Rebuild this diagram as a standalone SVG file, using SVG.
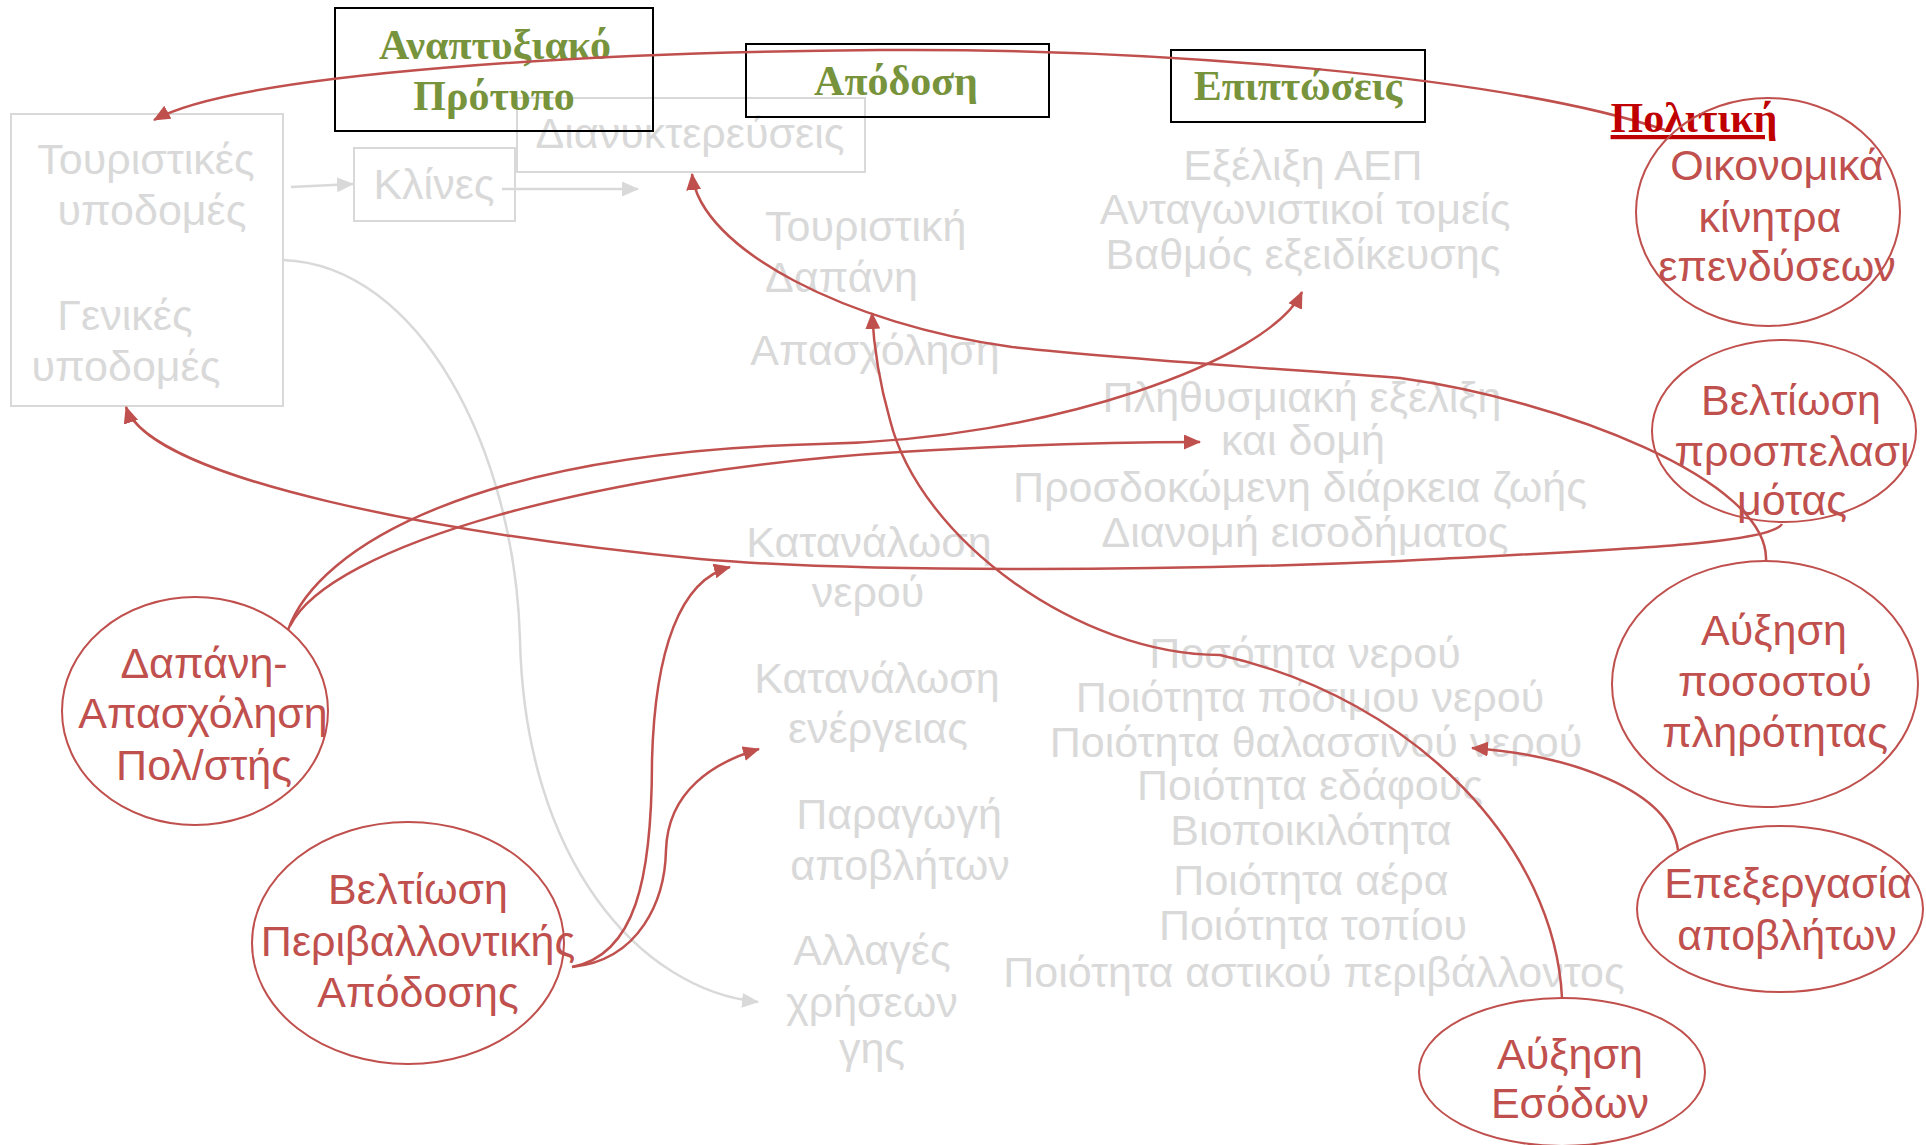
<svg xmlns="http://www.w3.org/2000/svg" width="1926" height="1145" viewBox="0 0 1926 1145">
<style>
.g{font-family:"Liberation Sans",Arial,sans-serif;font-size:43px;fill:#D9D9D9;text-anchor:middle}
.r{font-family:"Liberation Sans",Arial,sans-serif;font-size:43px;fill:#C0504D;text-anchor:middle}
.t{font-family:"Liberation Serif","Times New Roman",serif;font-size:42px;font-weight:bold;fill:#77933C;text-anchor:middle}
.p{font-family:"Liberation Serif","Times New Roman",serif;font-size:42px;font-weight:bold;fill:#C00000;text-anchor:middle;text-decoration:underline}
.tb{fill:none;stroke:#000;stroke-width:2}
.gb{fill:none;stroke:#D9D9D9;stroke-width:2}
.gl{fill:none;stroke:#D9D9D9;stroke-width:2.5}
.rl{fill:none;stroke:#C0504D;stroke-width:2.5}
.el{fill:none;stroke:#C0504D;stroke-width:2}
</style>
<defs>
<marker id="ar" viewBox="0 0 17 15" refX="16" refY="7.5" markerWidth="17" markerHeight="15" markerUnits="userSpaceOnUse" orient="auto"><path d="M0,0 L17,7.5 L0,15 z" fill="#C0504D"/></marker>
<marker id="ag" viewBox="0 0 17 15" refX="16" refY="7.5" markerWidth="17" markerHeight="15" markerUnits="userSpaceOnUse" orient="auto"><path d="M0,0 L17,7.5 L0,15 z" fill="#D9D9D9"/></marker>
</defs>
<rect width="1926" height="1145" fill="#fff"/>

<g id="infra">
<rect class="gb" x="11" y="114" width="272" height="292"/>
<text class="g" x="146" y="174">Τουριστικές</text>
<text class="g" x="152" y="225">υποδομές</text>
<text class="g" x="125" y="330">Γενικές</text>
<text class="g" x="126" y="381">υποδομές</text>
</g>
<g id="klines">
<rect class="gb" x="354" y="148" width="161" height="73"/>
<text class="g" x="434" y="199">Κλίνες</text>
</g>
<g id="dianykt">
<rect class="gb" x="517" y="98" width="348" height="74"/>
<text class="g" x="690" y="148">Διανυκτερεύσεις</text>
</g>
<g id="dapani">
<text class="g" x="765" y="241" style="text-anchor:start">Τουριστική</text>
<text class="g" x="765" y="292" style="text-anchor:start">Δαπάνη</text>
</g>
<g id="apasxolisi"><text class="g" x="875" y="365">Απασχόληση</text></g>
<g id="aep">
<text class="g" x="1303" y="180">Εξέλιξη ΑΕΠ</text>
<text class="g" x="1305" y="224">Ανταγωνιστικοί τομείς</text>
<text class="g" x="1303" y="269">Βαθμός εξειδίκευσης</text>
</g>
<g id="plithysmos">
<text class="g" x="1302" y="412">Πληθυσμιακή εξέλιξη</text>
<text class="g" x="1303" y="455">και δομή</text>
<text class="g" x="1300" y="502">Προσδοκώμενη διάρκεια ζωής</text>
<text class="g" x="1305" y="547">Διανομή εισοδήματος</text>
</g>
<g id="nero">
<text class="g" x="869" y="557">Κατανάλωση</text>
<text class="g" x="868" y="607">νερού</text>
</g>
<g id="energeia">
<text class="g" x="877" y="693">Κατανάλωση</text>
<text class="g" x="878" y="743">ενέργειας</text>
</g>
<g id="apovlita">
<text class="g" x="899" y="829">Παραγωγή</text>
<text class="g" x="900" y="880">αποβλήτων</text>
</g>
<g id="xriseis">
<text class="g" x="872" y="965">Αλλαγές</text>
<text class="g" x="872" y="1017">χρήσεων</text>
<text class="g" x="872" y="1063">γης</text>
</g>
<g id="perivallon">
<text class="g" x="1305" y="668">Ποσότητα νερού</text>
<text class="g" x="1310" y="712">Ποιότητα πόσιμου νερού</text>
<text class="g" x="1316" y="757">Ποιότητα θαλασσινού νερού</text>
<text class="g" x="1310" y="800">Ποιότητα εδάφους</text>
<text class="g" x="1311" y="845">Βιοποικιλότητα</text>
<text class="g" x="1311" y="895">Ποιότητα αέρα</text>
<text class="g" x="1313" y="940">Ποιότητα τοπίου</text>
<text class="g" x="1314" y="987">Ποιότητα αστικού περιβάλλοντος</text>
</g>

<g id="gray-connectors">
<path class="gl" d="M291,187 L353,184" marker-end="url(#ag)"/>
<path class="gl" d="M502,189 L638,189" marker-end="url(#ag)"/>
<path class="gl" d="M283,260 C420,265 515,450 520,640 C525,860 640,990 758,1002" marker-end="url(#ag)"/>
</g>

<g id="title-anaptyxiako">
<rect class="tb" x="335" y="8" width="318" height="123"/>
<text class="t" x="495" y="59">Αναπτυξιακό</text>
<text class="t" x="494" y="110">Πρότυπο</text>
</g>
<g id="title-apodosi">
<rect class="tb" x="746" y="44" width="303" height="73"/>
<text class="t" x="896" y="95">Απόδοση</text>
</g>
<g id="title-epiptoseis">
<rect class="tb" x="1171" y="50" width="254" height="72"/>
<text class="t" x="1298" y="100">Επιπτώσεις</text>
</g>

<g id="connectors">
<path class="rl" d="M1665,130 C1500,75 1150,48 880,50 C600,52 240,72 154,120" marker-end="url(#ar)"/>
<path class="rl" d="M1766,561 C1770,480 1560,400 1400,378 C1300,370 1130,360 1012,347 C850,325 700,250 692,174" marker-end="url(#ar)"/>
<path class="rl" d="M1782,524 C1770,545 1600,550 1400,561 C1150,572 850,572 700,559 C450,535 150,480 126,407" marker-end="url(#ar)"/>
<path class="rl" d="M288,630 C318,545 480,452 820,444 C1050,440 1270,360 1302,292" marker-end="url(#ar)"/>
<path class="rl" d="M290,626 C330,545 600,470 900,452 C1000,446 1100,442 1200,442" marker-end="url(#ar)"/>
<path class="rl" d="M572,967 C635,955 652,880 652,760 C655,650 680,580 730,567" marker-end="url(#ar)"/>
<path class="rl" d="M572,967 C640,960 665,900 666,850 C668,790 715,762 759,749" marker-end="url(#ar)"/>
<path class="rl" d="M1678,850 C1670,790 1570,755 1472,748" marker-end="url(#ar)"/>
<path class="rl" d="M1562,998 C1555,850 1420,700 1220,655 C1080,655 920,540 890,420 C880,385 874,350 872,313" marker-end="url(#ar)"/>
</g>

<g id="politiki"><text class="p" x="1694" y="132">Πολιτική</text></g>
<g id="oikonomika">
<ellipse class="el" cx="1768" cy="212" rx="132" ry="114"/>
<text class="r" x="1777" y="180">Οικονομικά</text>
<text class="r" x="1770" y="232">κίνητρα</text>
<text class="r" x="1777" y="281">επενδύσεων</text>
</g>
<g id="prospelasimotita">
<ellipse class="el" cx="1784" cy="431" rx="132" ry="91"/>
<text class="r" x="1791" y="415">Βελτίωση</text>
<text class="r" x="1792" y="466">προσπελασι</text>
<text class="r" x="1792" y="515">μότας</text>
</g>
<g id="plirotita">
<ellipse class="el" cx="1765" cy="684" rx="153" ry="123"/>
<text class="r" x="1774" y="645">Αύξηση</text>
<text class="r" x="1775" y="696">ποσοστού</text>
<text class="r" x="1775" y="747">πληρότητας</text>
</g>
<g id="epexergasia">
<ellipse class="el" cx="1780" cy="909" rx="143" ry="83"/>
<text class="r" x="1788" y="898">Επεξεργασία</text>
<text class="r" x="1787" y="950">αποβλήτων</text>
</g>
<g id="esoda">
<ellipse class="el" cx="1562" cy="1072" rx="143" ry="74"/>
<text class="r" x="1570" y="1069">Αύξηση</text>
<text class="r" x="1570" y="1118">Εσόδων</text>
</g>
<g id="dapani-politi">
<ellipse class="el" cx="195" cy="711" rx="133" ry="114"/>
<text class="r" x="204" y="678">Δαπάνη-</text>
<text class="r" x="203" y="728">Απασχόληση</text>
<text class="r" x="204" y="780">Πολ/στής</text>
</g>
<g id="perivallontiki">
<ellipse class="el" cx="408" cy="943" rx="156" ry="121"/>
<text class="r" x="418" y="904">Βελτίωση</text>
<text class="r" x="418" y="956">Περιβαλλοντικής</text>
<text class="r" x="418" y="1007">Απόδοσης</text>
</g>
</svg>
